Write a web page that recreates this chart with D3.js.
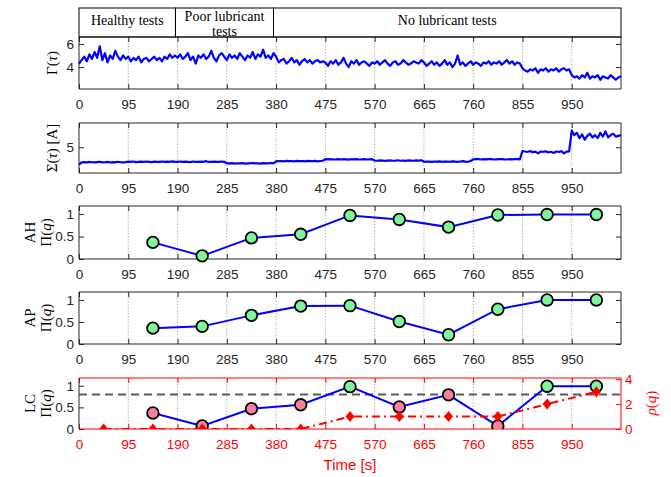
<!DOCTYPE html>
<html>
<head>
<meta charset="utf-8">
<script src="https://cdn.jsdelivr.net/npm/d3@7"></script>
<style>
  body { margin: 0; background: #fff; }
  text { font-family: "Liberation Sans", Arial, sans-serif; }
  .serif { font-family: "Liberation Serif", "DejaVu Serif", serif; }
</style>
</head>
<body>
<svg id="chart" width="671" height="477"></svg>
<script>
// ---- data ----
var timeTicks = [0, 95, 190, 285, 380, 475, 570, 665, 760, 855, 950];
var headerLabels = [["Healthy tests"], ["Poor lubricant", "tests"], ["No lubricant tests"]];
var headerBounds = [0, 186, 375, 1045];

// signals sampled every 5 s, 0..1045
var sampleStep = 5;
var gammaValues = [
  4.3, 4.6, 4.9, 4.5, 5.1, 4.7, 5.3, 4.8, 5.8, 4.6, 5.2, 4.4, 5.0, 4.7, 5.4, 4.9, 4.6, 5.0, 4.7,
  4.9, 4.5, 4.8, 4.6, 4.9, 4.4, 4.7, 4.8, 4.5, 4.7, 4.9, 4.6, 4.8, 4.5, 4.9, 4.7, 5.1, 4.8, 5.0,
  4.8, 5.1, 4.7, 4.9, 5.2, 4.6, 4.9, 4.3, 5.0, 4.8, 5.1, 4.7, 4.9, 5.4, 4.8, 4.5, 5.0, 5.2, 4.9,
  4.6, 5.1, 4.8, 5.0, 4.7, 5.2, 4.9, 4.6, 5.0, 4.8, 5.3, 4.7, 5.1, 4.9, 5.5, 4.8, 5.0, 4.7, 5.2,
  4.9, 4.4, 4.6, 4.7, 4.3, 4.5, 4.8, 4.4, 4.6, 4.2, 4.5, 4.7, 4.4, 4.6, 4.3, 4.5, 4.6, 4.4, 4.5,
  4.4, 4.1, 4.5, 4.3, 4.6, 4.2, 4.4, 4.8, 4.3, 4.0, 4.5, 4.3, 4.6, 4.2, 4.4, 4.5, 4.3, 4.1, 4.4,
  4.3, 4.5, 4.2, 4.4, 4.6, 4.3, 4.1, 4.4, 4.5, 4.2, 4.3, 4.6, 4.4, 4.2, 4.3, 4.5, 4.4, 4.3, 4.6,
  4.4, 4.1, 4.3, 4.5, 4.2, 4.4, 4.1, 4.3, 4.6, 4.2, 4.4, 4.0, 4.3, 5.0, 4.2, 4.4, 4.1, 4.3, 4.5,
  4.2, 4.4, 4.3, 4.1, 4.4, 4.3, 4.5, 4.2, 4.4, 4.3, 4.5, 4.2, 4.4, 4.6, 4.3, 4.5, 4.2, 4.4, 4.3,
  3.9, 3.7, 3.6, 3.8, 3.7, 3.9, 3.5, 3.8, 3.7, 3.9, 3.6, 3.8, 3.7, 3.9, 3.6, 3.8, 3.9, 3.7, 3.8,
  3.3, 3.1, 3.2, 3.0, 3.3, 3.1, 3.5, 3.0, 3.2, 3.1, 3.3, 2.9, 3.2, 3.1, 3.0, 3.3, 3.1, 2.9, 3.1, 3.2
];
var sigmaValues = [
  3.85, 4.0, 4.02, 4.0, 4.03, 4.01, 4.0, 4.02, 4.04, 4.0, 4.01, 4.03, 3.99, 4.02, 4.0, 4.04, 4.01, 4.0, 4.02,
  4.05, 4.03, 4.06, 4.02, 4.04, 4.05, 4.03, 4.06, 4.04, 4.02, 4.05, 4.03, 4.04, 4.06, 4.03, 4.05, 4.04, 4.07, 4.03,
  4.04, 4.06, 4.03, 4.05, 4.04, 4.02, 4.06, 4.04, 4.03, 4.05, 4.04, 4.08, 4.03, 4.04, 4.05, 4.03, 4.04, 4.06, 4.04,
  3.94, 3.93, 3.95, 3.92, 3.94, 3.93, 3.95, 3.92, 3.94, 3.93, 3.96, 3.93, 3.94, 3.92, 3.95, 3.93, 3.94, 3.96, 3.93,
  4.07, 4.09, 4.08, 4.07, 4.1, 4.08, 4.09, 4.07, 4.1, 4.08, 4.09, 4.07, 4.1, 4.09, 4.08, 4.1, 4.07, 4.09, 4.11,
  4.22, 4.2, 4.21, 4.19, 4.2, 4.22, 4.19, 4.21, 4.2, 4.18, 4.21, 4.2, 4.22, 4.19, 4.2, 4.21, 4.19, 4.2, 4.21,
  4.12, 4.11, 4.13, 4.12, 4.1, 4.12, 4.13, 4.11, 4.12, 4.14, 4.11, 4.12, 4.1, 4.13, 4.12, 4.11, 4.13, 4.12, 4.14,
  4.04, 4.06, 4.05, 4.03, 4.06, 4.05, 4.07, 4.04, 4.05, 4.06, 4.04, 4.07, 4.05, 4.03, 4.06, 4.08, 4.05, 4.04, 4.09,
  4.2, 4.22, 4.21, 4.19, 4.21, 4.2, 4.22, 4.21, 4.19, 4.2, 4.21, 4.22, 4.2, 4.19, 4.21, 4.2, 4.22, 4.21, 4.2,
  4.75, 4.72, 4.7, 4.74, 4.68, 4.71, 4.6, 4.72, 4.7, 4.73, 4.66, 4.7, 4.62, 4.72, 4.69, 4.74, 4.6, 4.71, 4.73,
  6.1, 5.8, 5.95, 5.6, 5.85, 5.5, 5.75, 5.9, 5.65, 5.8, 5.6, 5.95, 5.7, 6.05, 5.65, 5.8, 5.9, 5.7, 5.75, 5.8
];

var qualityTimes = [142.5, 237.5, 332.5, 427.5, 522.5, 617.5, 712.5, 807.5, 902.5, 997.5];
var ahValues = [0.37, 0.07, 0.47, 0.55, 0.97, 0.88, 0.71, 0.98, 0.99, 0.99];
var apValues = [0.36, 0.40, 0.65, 0.86, 0.87, 0.51, 0.21, 0.79, 1.0, 1.0];
var lcValues = [0.37, 0.07, 0.47, 0.56, 0.98, 0.51, 0.79, 0.07, 0.99, 0.99];
var lcThreshold = 0.8;
var rhoTimes = [47.5, 142.5, 237.5, 332.5, 427.5, 522.5, 617.5, 712.5, 807.5, 902.5, 997.5];
var rhoValues = [0, 0, 0, 0, 0, 1, 1, 1, 1, 2, 3];

// ---- layout ----
var svg = d3.select("#chart");
var left = 79, right = 621;
var dark = "#262626", red = "#ff0000", blue = "#0000ff";
var green = "#7ff59b", pink = "#f7809e";

var x = d3.scaleLinear().domain([0, 1045]).range([left, right]);

var panels = [
  { top: 37, bottom: 89, domain: [2.1, 6.6], ticks: [4, 6] },
  { top: 123, bottom: 173, domain: [3.3, 6.6], ticks: [5] },
  { top: 206, bottom: 259, domain: [0, 1.18], ticks: [0, 0.5, 1] },
  { top: 292, bottom: 344, domain: [0, 1.18], ticks: [0, 0.5, 1] },
  { top: 378, bottom: 429, domain: [0, 1.18], ticks: [0, 0.5, 1] }
];

function styleAxis(g, color) {
  g.select(".domain").remove();
  g.selectAll(".tick line").attr("stroke", color);
  g.selectAll(".tick text").attr("fill", color).style("font-size", "13.5px");
}

function drawPanel(p, last) {
  var y = d3.scaleLinear().domain(p.domain).range([p.bottom, p.top]);
  var g = svg.append("g");
  var xColor = last ? red : dark;

  g.selectAll("line.grid").data(timeTicks.slice(1)).join("line")
    .attr("class", "grid")
    .attr("x1", d => x(d)).attr("x2", d => x(d))
    .attr("y1", p.top).attr("y2", p.bottom)
    .attr("stroke", "#b5b5b5").attr("stroke-width", 1)
    .attr("stroke-dasharray", "1.5,1.5");

  g.append("g").attr("transform", "translate(0," + p.bottom + ")")
    .call(d3.axisBottom(x).tickValues(timeTicks).tickSize(-5).tickPadding(10).tickFormat(d3.format("d")))
    .call(styleAxis, xColor);
  g.append("g").attr("transform", "translate(0," + p.top + ")")
    .call(d3.axisTop(x).tickValues(timeTicks).tickSize(-5).tickFormat(""))
    .call(styleAxis, xColor);
  g.append("g").attr("transform", "translate(" + left + ",0)")
    .call(d3.axisLeft(y).tickValues(p.ticks).tickSize(-5).tickPadding(5).tickFormat(d => String(d)))
    .call(styleAxis, dark);
  if (!last) {
    g.append("g").attr("transform", "translate(" + right + ",0)")
      .call(d3.axisRight(y).tickValues(p.ticks).tickSize(-5).tickFormat(""))
      .call(styleAxis, dark);
  }

  // frame
  g.append("line").attr("x1", left).attr("x2", right).attr("y1", p.top).attr("y2", p.top)
    .attr("stroke", xColor);
  g.append("line").attr("x1", left).attr("x2", right).attr("y1", p.bottom).attr("y2", p.bottom)
    .attr("stroke", xColor);
  g.append("line").attr("x1", right).attr("x2", right).attr("y1", p.top).attr("y2", p.bottom)
    .attr("stroke", last ? red : dark);
  g.append("line").attr("x1", left).attr("x2", left).attr("y1", p.top).attr("y2", p.bottom)
    .attr("stroke", dark);
  return { g: g, y: y };
}

var P = panels.map((p, i) => drawPanel(p, i === panels.length - 1));

// ---- signals ----
[gammaValues, sigmaValues].forEach(function (vals, i) {
  var y = P[i].y;
  P[i].g.append("path").datum(vals)
    .attr("fill", "none").attr("stroke", blue).attr("stroke-width", 2.2)
    .attr("stroke-linejoin", "round")
    .attr("d", d3.line().x((d, k) => x(k * sampleStep)).y(d => y(d)));
});

// ---- quality indices ----
function drawQuality(panel, vals, colorFn) {
  var y = panel.y;
  panel.g.append("path").datum(vals)
    .attr("fill", "none").attr("stroke", blue).attr("stroke-width", 2)
    .attr("d", d3.line().x((d, k) => x(qualityTimes[k])).y(d => y(d)));
  panel.g.selectAll("circle.q").data(vals).join("circle")
    .attr("class", "q")
    .attr("cx", (d, k) => x(qualityTimes[k])).attr("cy", d => y(d)).attr("r", 5.8)
    .attr("fill", colorFn).attr("stroke", "#000").attr("stroke-width", 1.8);
}
drawQuality(P[2], ahValues, () => green);
drawQuality(P[3], apValues, () => green);

// LC panel with threshold and rho
var lc = panels[4];
svg.append("clipPath").attr("id", "lcClip").append("rect")
  .attr("x", left).attr("y", lc.top).attr("width", right - left).attr("height", lc.bottom - lc.top);
var lcLayer = { g: P[4].g.append("g").attr("clip-path", "url(#lcClip)"), y: P[4].y };

lcLayer.g.append("line")
  .attr("x1", left).attr("x2", right)
  .attr("y1", P[4].y(lcThreshold)).attr("y2", P[4].y(lcThreshold))
  .attr("stroke", "#5a5a5a").attr("stroke-width", 2).attr("stroke-dasharray", "8,5");

drawQuality(lcLayer, lcValues, d => d > lcThreshold ? green : pink);

var y2 = d3.scaleLinear().domain([0, 4.1]).range([lc.bottom, lc.top]);
lcLayer.g.append("path").datum(rhoValues)
  .attr("fill", "none").attr("stroke", red).attr("stroke-width", 2)
  .attr("stroke-dasharray", "8,4,2,4")
  .attr("d", d3.line().x((d, k) => x(rhoTimes[k])).y(d => y2(d)));
lcLayer.g.selectAll("path.dia").data(rhoValues).join("path")
  .attr("class", "dia").attr("fill", red)
  .attr("d", function (d, k) {
    var cx = x(rhoTimes[k]), cy = y2(d);
    return "M" + cx + "," + (cy - 5.5) + "L" + (cx + 4.5) + "," + cy +
      "L" + cx + "," + (cy + 5.5) + "L" + (cx - 4.5) + "," + cy + "Z";
  });

svg.append("g").attr("transform", "translate(" + right + ",0)")
  .call(d3.axisRight(y2).tickValues([0, 2, 4]).tickSize(-5).tickPadding(4).tickFormat(d3.format("d")))
  .call(styleAxis, red);

// ---- header boxes ----
var header = svg.append("g");
headerLabels.forEach(function (lines, i) {
  var x0 = x(headerBounds[i]), x1 = x(headerBounds[i + 1]);
  header.append("rect").attr("x", x0).attr("y", 8).attr("width", x1 - x0).attr("height", 29)
    .attr("fill", "none").attr("stroke", "#000").attr("stroke-width", 1);
  var t = header.append("text").attr("class", "serif")
    .attr("x", (x0 + x1) / 2).attr("text-anchor", "middle")
    .style("font-size", "14px").attr("fill", "#000");
  if (lines.length === 1) {
    t.attr("y", 25).text(lines[0]);
  } else {
    t.attr("y", 21);
    t.append("tspan").attr("x", (x0 + x1) / 2).text(lines[0]);
    t.append("tspan").attr("x", (x0 + x1) / 2).attr("dy", 15).text(lines[1]);
  }
});

// ---- axis labels ----
function yLabel(xpos, ycenter, parts, color) {
  var t = svg.append("text").attr("class", "serif")
    .attr("transform", "translate(" + xpos + "," + ycenter + ") rotate(-90)")
    .attr("text-anchor", "middle").style("font-size", "15px").attr("fill", color || "#000");
  parts.forEach(function (s) {
    t.append("tspan").style("font-style", s[1] ? "italic" : "normal").text(s[0]);
  });
}
yLabel(57, 63, [["Γ("], ["τ", 1], [")"]]);
yLabel(57, 148, [["Σ("], ["τ", 1], [") [A]"]]);
[["AH", 2], ["AP", 3], ["LC", 4]].forEach(function (d) {
  var p = panels[d[1]], c = (p.top + p.bottom) / 2;
  yLabel(35, c, [[d[0]]]);
  yLabel(51, c, [["Π("], ["q", 1], [")"]]);
});
yLabel(656, 403, [["ρ", 1], ["("], ["q", 1], [")"]], red);

svg.append("text").attr("x", (left + right) / 2).attr("y", 470)
  .attr("text-anchor", "middle").style("font-size", "15px").attr("fill", red)
  .text("Time [s]");
</script>
</body>
</html>
